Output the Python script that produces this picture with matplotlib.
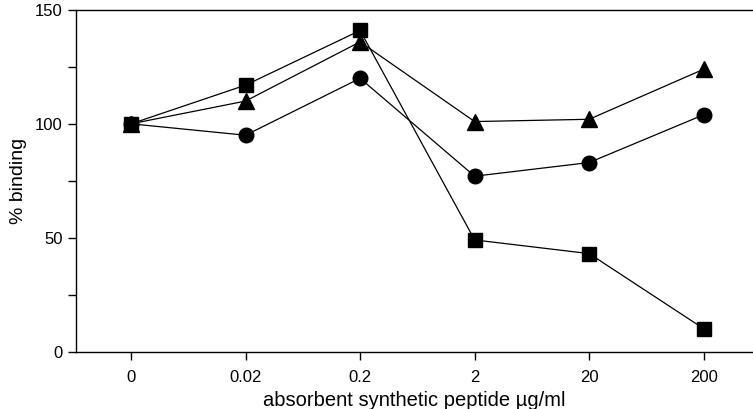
import matplotlib
matplotlib.use("Agg")
import matplotlib.pyplot as plt

plt.rcParams["font.family"] = ["Liberation Sans", "DejaVu Sans"]

concentrations = ["0", "0.02", "0.2", "2", "20", "200"]
circle_values = [100, 95, 120, 77, 83, 104]
triangle_values = [100, 110, 136, 101, 102, 124]
square_values = [100, 117, 141, 49, 43, 10]

fig = plt.figure(figsize=(7.53, 4.09), dpi=100)
ax = fig.add_axes([76 / 753, 1 - 351.5 / 409, 1 - 76 / 753, 341.5 / 409])

x = range(len(concentrations))
ax.plot(x, circle_values, color="black", linewidth=0.9, marker="o",
        markersize=10.5, markerfacecolor="black", zorder=3)
ax.plot(x, triangle_values, color="black", linewidth=0.9, marker="^",
        markersize=11, markerfacecolor="black", zorder=4)
ax.plot(x, square_values, color="black", linewidth=0.9, marker="s",
        markersize=10, markerfacecolor="black", zorder=5)

ax.set_xlim(-0.48, 5.43)
ax.set_ylim(0, 150)
ax.set_xticks(list(x))
ax.set_xticklabels(concentrations)
ax.set_yticks([0, 50, 100, 150])
ax.set_yticks([25, 75, 125], minor=True)

ax.spines["right"].set_visible(False)
for side in ("left", "top", "bottom"):
    ax.spines[side].set_linewidth(1.0)

ax.tick_params(axis="both", which="major", length=6, width=1.0, labelsize=12, direction="out")
ax.tick_params(axis="y", which="minor", length=6, width=1.0)
ax.tick_params(axis="x", pad=7)

ax.set_xlabel("absorbent synthetic peptide µg/ml", fontsize=14.5, labelpad=5)
ax.set_ylabel("% binding", fontsize=14, labelpad=6)

plt.savefig("out.png", dpi=100)
